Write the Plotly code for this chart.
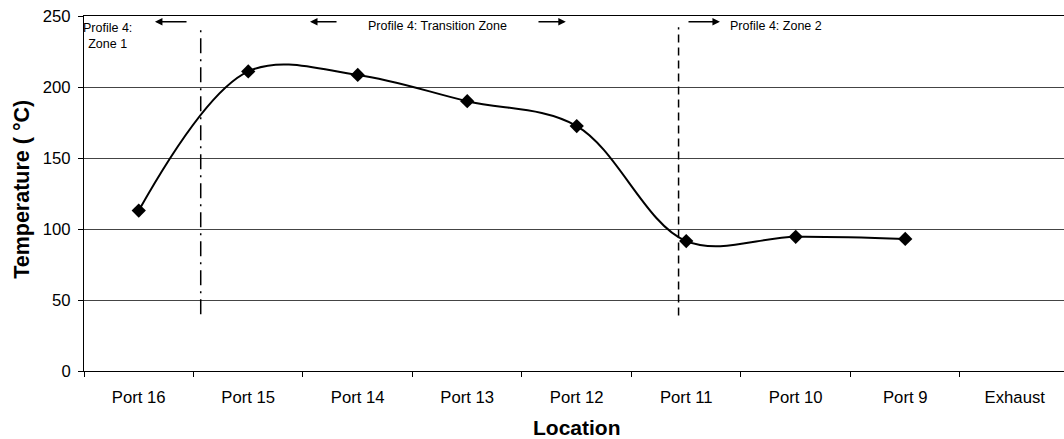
import plotly.graph_objects as go

# ---- data ----
locations = ["Port 16", "Port 15", "Port 14", "Port 13", "Port 12",
             "Port 11", "Port 10", "Port 9", "Exhaust"]
measured_locations = ["Port 16", "Port 15", "Port 14", "Port 13", "Port 12",
                      "Port 11", "Port 10", "Port 9"]
temperature_c = [113, 211, 208.5, 190, 172.5, 91.5, 94.5, 93]

zone_labels = ["Profile 4:<br>Zone 1", "Profile 4: Transition Zone", "Profile 4: Zone 2"]
y_ticks = [0, 50, 100, 150, 200, 250]

FONT = "Liberation Sans, Arial, sans-serif"

fig = go.Figure()

fig.add_trace(go.Scatter(
    x=measured_locations, y=temperature_c,
    mode="lines+markers",
    line=dict(color="black", width=2, shape="spline", smoothing=1),
    marker=dict(symbol="diamond", size=11, color="black"),
    showlegend=False, hoverinfo="skip",
))

# zone boundary lines
fig.add_shape(type="line", xref="x", yref="y", x0=0.566, x1=0.566, y0=40, y1=242,
              line=dict(color="black", width=1.5, dash="15px,6px,2px,6px"))
fig.add_shape(type="line", xref="x", yref="y", x0=4.93, x1=4.93, y0=39, y1=242,
              line=dict(color="black", width=1.5, dash="8px,5px"))

# zone annotations
fig.add_annotation(x=-0.0034, y=248, xref="paper", yref="y", text=zone_labels[0],
                   showarrow=False, xanchor="left", yanchor="top", align="center",
                   font=dict(family=FONT, size=12.5, color="black"))
fig.add_annotation(x=2.73, y=243, xref="x", yref="y", text=zone_labels[1],
                   showarrow=False, xanchor="center", yanchor="middle",
                   font=dict(family=FONT, size=12.5, color="black"))
fig.add_annotation(x=5.381, y=243, xref="x", yref="y", text=zone_labels[2],
                   showarrow=False, xanchor="left", yanchor="middle",
                   font=dict(family=FONT, size=12.5, color="black"))

# arrows (head at x, tail at ax)
arrows = [(0.148, 0.45), (1.564, 1.82), (3.90, 3.637), (5.308, 5.007)]
for head, tail in arrows:
    fig.add_annotation(x=head, y=246, ax=tail, ay=246, xref="x", yref="y",
                       axref="x", ayref="y", text="", showarrow=True,
                       arrowhead=2, arrowsize=1, arrowwidth=1.5, arrowcolor="black",
                       standoff=0, startstandoff=0)

# axis titles
fig.add_annotation(x=-0.0633, y=0.513, xref="paper", yref="paper",
                   text="<b>Temperature ( °C)</b>", textangle=-90, showarrow=False,
                   xanchor="center", yanchor="middle",
                   font=dict(family=FONT, size=21.5, color="black"))
fig.add_annotation(x=0.503, y=-0.16, xref="paper", yref="paper",
                   text="<b>Location</b>", showarrow=False,
                   xanchor="center", yanchor="middle",
                   font=dict(family=FONT, size=21, color="black"))

fig.update_layout(
    width=1064, height=439,
    margin=dict(l=84, r=0, t=16, b=68),
    paper_bgcolor="white", plot_bgcolor="white",
    font=dict(family=FONT, color="black"),
    xaxis=dict(
        type="category", categoryorder="array", categoryarray=locations,
        tickvals=locations, range=[-0.5, 8.45],
        tickson="boundaries", ticks="outside", ticklen=5, tickcolor="black",
        ticklabelstandoff=11,
        showline=True, linecolor="black", linewidth=1, mirror=True,
        showgrid=False, zeroline=False,
        tickfont=dict(family=FONT, size=16.7, color="black"),
    ),
    yaxis=dict(
        range=[0, 250], tickvals=y_ticks, ticks="outside", ticklen=5, tickcolor="black",
        ticklabelstandoff=4,
        showline=True, linecolor="black", linewidth=1,
        showgrid=True, gridcolor="#444444", gridwidth=1, zeroline=False,
        tickfont=dict(family=FONT, size=16.7, color="black"),
    ),
)

fig.write_html("out.html",
               config={"displayModeBar": False, "staticPlot": True},
               post_script="document.body.style.margin='0';document.body.style.overflow='hidden';")
